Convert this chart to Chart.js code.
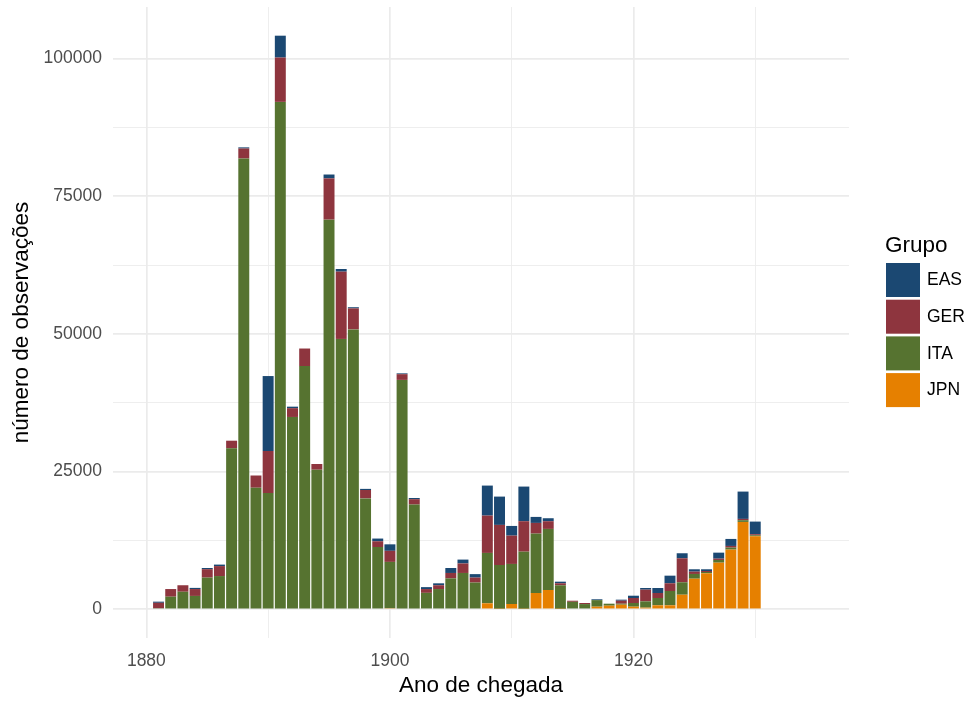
<!DOCTYPE html>
<html>
<head>
<meta charset="utf-8">
<script src="https://cdn.jsdelivr.net/npm/chart.js"></script>
<style>
  body { margin: 0; background: #fff; }
  #wrap { width: 972px; height: 701px; }
</style>
</head>
<body>
<div id="wrap"><canvas id="chegadas" width="972" height="701"></canvas></div>
<script>
var years = [1881, 1882, 1883, 1884, 1885, 1886, 1887, 1888, 1889, 1890,
    1891, 1892, 1893, 1894, 1895, 1896, 1897, 1898, 1899, 1900,
    1901, 1902, 1903, 1904, 1905, 1906, 1907, 1908, 1909, 1910,
    1911, 1912, 1913, 1914, 1915, 1916, 1917, 1918, 1919, 1920,
    1921, 1922, 1923, 1924, 1925, 1926, 1927, 1928, 1929, 1930, 1934];

var eas = [210, 0, 0, 210, 210, 270, 0, 210, 0, 13610,
    3970, 270, 0, 0, 700, 480, 210, 200, 490, 1180,
    150, 210, 350, 350, 900, 700, 630, 5450, 5140, 1760,
    6290, 1090, 540, 290, 0, 0, 150, 0, 190, 420,
    300, 910, 1380, 910, 430, 310, 1090, 1270, 4960, 2290, 0];

var ger = [980, 1390, 1180, 1250, 1530, 1810, 1380, 1810, 2220, 7640,
    8050, 1600, 3190, 1040, 7500, 12220, 3820, 1530, 1040, 2010,
    1040, 970, 690, 690, 980, 1730, 900, 6780, 7280, 5140,
    5530, 1940, 1400, 370, 200, 200, 0, 0, 540, 900,
    2120, 910, 1400, 4360, 420, 180, 240, 310, 240, 190, 150];

var ita = [200, 2290, 3190, 2430, 5760, 6040, 29240, 81870, 22080, 21110,
    92150, 34930, 44170, 25350, 70760, 49100, 50830, 20140, 11320, 8410,
    41660, 19030, 2990, 3680, 5620, 6600, 4860, 9150, 7940, 7280,
    10360, 10790, 11090, 4260, 1360, 950, 1190, 360, 180, 670,
    1150, 1320, 2600, 2260, 860, 240, 490, 360, 310, 180, 0];

var jpn = [0, 0, 0, 0, 0, 0, 0, 0, 0, 0,
    0, 0, 0, 0, 0, 0, 0, 0, 0, 200,
    0, 0, 0, 0, 0, 0, 0, 1090, 110, 960,
    110, 2960, 3510, 100, 0, 0, 480, 660, 840, 480,
    300, 730, 730, 2650, 5560, 6540, 8470, 10840, 15870, 13270, 0];

var xTicks = [1880, 1890, 1900, 1910, 1920, 1930];
var xTickLabels = ['1880', '', '1900', '', '1920', ''];
var yTicks = [0, 12500, 25000, 37500, 50000, 62500, 75000, 87500, 100000];
var yTickLabels = ['0', '', '25000', '', '50000', '', '75000', '', '100000'];

var grupos = ['EAS', 'GER', 'ITA', 'JPN'];
var cores = { EAS: '#1b4872', GER: '#8e353e', ITA: '#567330', JPN: '#e68000' };

var fontFam = '"Liberation Sans", Arial, Helvetica, sans-serif';

function pontos(serie) {
    var out = [];
    for (var i = 0; i < years.length; i++) out.push({ x: years[i], y: serie[i] });
    return out;
}

function ds(nome, serie) {
    return {
        label: nome,
        data: pontos(serie),
        backgroundColor: cores[nome],
        borderWidth: 0,
        barPercentage: 0.9,
        categoryPercentage: 1
    };
}

// legenda desenhada a mao pra ficar no lugar certo
var legendaGrupo = {
    id: 'legendaGrupo',
    afterDraw: function(chart) {
        var ctx = chart.ctx;
        var x0 = chart.chartArea.right + 37;
        var y0 = 263;
        ctx.save();
        ctx.fillStyle = '#000';
        ctx.textAlign = 'left';
        ctx.textBaseline = 'alphabetic';
        ctx.font = '22.5px ' + fontFam;
        ctx.fillText('Grupo', x0 - 1, y0 - 11);
        ctx.font = '17.5px ' + fontFam;
        ctx.textBaseline = 'middle';
        for (var i = 0; i < grupos.length; i++) {
            var y = y0 + i * 36.7;
            ctx.fillStyle = cores[grupos[i]];
            ctx.fillRect(x0, y, 34, 34);
            ctx.fillStyle = '#000';
            ctx.fillText(grupos[i], x0 + 41, y + 17.5);
        }
        ctx.restore();
    }
};

function gridWidth(ctx) {
    if (!ctx.tick) return 0;
    return (ctx.index % 2 === 0) ? 1.7 : 0.85;
}

new Chart(document.getElementById('chegadas'), {
    type: 'bar',
    data: {
        datasets: [ds('JPN', jpn), ds('ITA', ita), ds('GER', ger), ds('EAS', eas)]
    },
    options: {
        responsive: false,
        animation: false,
        devicePixelRatio: 1,
        layout: { padding: { top: 7, right: 123, bottom: 0, left: 0 } },
        plugins: {
            legend: { display: false },
            tooltip: { enabled: false }
        },
        scales: {
            x: {
                type: 'linear',
                stacked: true,
                offset: false,
                min: 1877.26,
                max: 1937.7,
                afterBuildTicks: function(axis) {
                    axis.ticks = xTicks.map(function(v) { return { value: v }; });
                },
                afterFit: function(axis) {
                    axis.height = 63;
                    axis.paddingLeft = 0;
                    axis.paddingRight = 0;
                },
                grid: { offset: false, color: '#ebebeb', lineWidth: gridWidth, drawTicks: false },
                border: { display: false },
                ticks: {
                    padding: 13,
                    color: '#4d4d4d',
                    font: { family: fontFam, size: 17.5 },
                    maxRotation: 0,
                    autoSkip: false,
                    callback: function(v, i) { return xTickLabels[i]; }
                },
                title: {
                    display: true,
                    text: 'Ano de chegada',
                    color: '#000',
                    font: { family: fontFam, size: 22.5 },
                    padding: { top: 0, bottom: 2 }
                }
            },
            y: {
                stacked: true,
                min: -5210,
                max: 109380,
                afterBuildTicks: function(axis) {
                    axis.ticks = yTicks.map(function(v) { return { value: v }; });
                },
                afterFit: function(axis) {
                    axis.width = 113;
                    axis.paddingTop = 0;
                    axis.paddingBottom = 0;
                },
                grid: { color: '#ebebeb', lineWidth: gridWidth, drawTicks: false },
                border: { display: false },
                ticks: {
                    padding: 11,
                    color: '#4d4d4d',
                    font: { family: fontFam, size: 17.5 },
                    autoSkip: false,
                    callback: function(v, i) { return yTickLabels[i]; }
                },
                title: {
                    display: true,
                    text: 'número de observações',
                    color: '#000',
                    font: { family: fontFam, size: 22.5 },
                    padding: { top: 8, bottom: 0 }
                }
            }
        }
    },
    plugins: [legendaGrupo]
});
</script>
</body>
</html>
